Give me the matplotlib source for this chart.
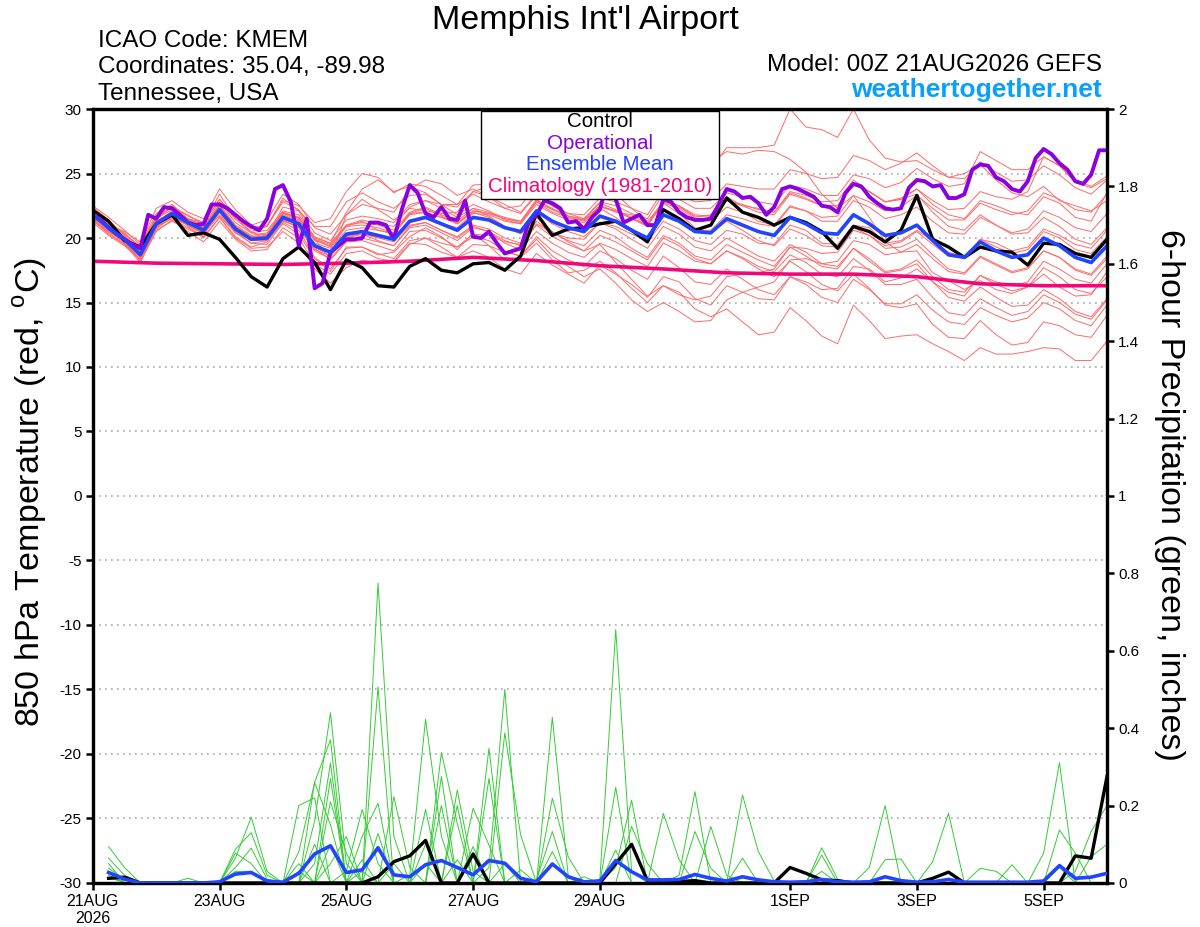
"""
GEFS 850 hPa temperature / 6-hour precipitation plume for KMEM.
"""

import pandas as pd
import matplotlib
matplotlib.use("Agg")
from matplotlib import pyplot as plt
from matplotlib.patches import Rectangle

plt.rcParams['font.family'] = ['Liberation Sans', 'DejaVu Sans']
plt.rcParams['mathtext.fontset'] = 'custom'
plt.rcParams['mathtext.rm'] = 'Liberation Sans'

# ---------------------------------------------------------------- texts
title = "Memphis Int'l Airport"
info_left = ["ICAO Code: KMEM", "Coordinates: 35.04, -89.98", "Tennessee, USA"]
model_run = "Model: 00Z 21AUG2026 GEFS"
website = "weathertogether.net"
legend_labels = ["Control", "Operational", "Ensemble Mean", "Climatology (1981-2010)"]

tick_dates = ["2026-08-21", "2026-08-23", "2026-08-25", "2026-08-27",
              "2026-08-29", "2026-09-01", "2026-09-03", "2026-09-05"]
tick_labels = ["21AUG\n2026", "23AUG", "25AUG", "27AUG", "29AUG", "1SEP", "3SEP", "5SEP"]

# ---------------------------------------------------------------- 850 hPa temperature (C), 6-hourly, 00Z 21AUG .. 00Z 06SEP
t850_mean = [21.8, 20.8, 19.9, 18.7, 21.1, 21.9, 21.2, 20.6, 22.2, 20.7, 19.9, 20.0, 21.6,
             21.1, 19.4, 18.9, 20.3, 20.5, 20.2, 19.9, 21.3, 21.6, 21.1, 20.6, 21.6, 21.4,
             20.8, 20.5, 22.1, 21.3, 20.8, 20.5, 21.7, 21.3, 20.6, 20.0, 21.8, 21.3, 20.5,
             20.4, 21.5, 21.0, 20.5, 20.2, 21.6, 21.1, 20.4, 20.3, 21.8, 21.1, 20.2, 20.4,
             21.0, 19.8, 18.7, 18.5, 19.7, 19.0, 18.5, 18.7, 20.0, 19.4, 18.5, 18.1, 19.4]

t850_control = [22.15, 21.3, 19.8, 19.3, 21.1, 21.8, 20.2, 20.4, 19.9, 18.5, 17.0, 16.2, 18.4,
                19.3, 18.1, 16.0, 18.3, 17.7, 16.3, 16.2, 17.8, 18.4, 17.5, 17.3, 18.0, 18.1,
                17.5, 18.6, 21.9, 20.2, 20.7, 20.8, 21.1, 21.3, 20.6, 19.7, 22.2, 21.5, 20.6,
                21.0, 23.1, 22.0, 21.6, 21.0, 21.6, 21.2, 20.5, 19.2, 20.9, 20.5, 19.7, 20.6,
                23.3, 19.9, 19.3, 18.5, 19.3, 19.0, 18.9, 17.9, 19.6, 19.5, 18.8, 18.5, 19.9]

# operational GFS, 3-hourly (one row per day)
t850_oper = [21.9, 21.4, 20.8, 20.3, 19.9, 19.5, 19.2, 21.8,
             21.5, 22.4, 22.3, 21.8, 21.2, 21.0, 21.1, 22.6,
             22.6, 22.3, 21.8, 21.3, 20.9, 20.6, 21.5, 23.8,
             24.1, 22.8, 19.4, 21.5, 16.1, 16.5, 18.9, 19.4,
             19.9, 19.9, 20.0, 21.2, 21.2, 21.0, 19.9, 22.2,
             24.1, 23.5, 21.9, 21.6, 22.4, 21.5, 21.4, 22.9,
             20.1, 20.0, 20.5, 19.6, 18.8, 19.0, 19.2, 21.2,
             21.8, 22.9, 22.7, 22.3, 21.2, 21.3, 20.7, 21.6,
             22.2, 24.5, 23.0, 21.2, 21.5, 21.8, 21.0, 21.0,
             23.0, 22.8, 22.0, 21.6, 21.4, 21.4, 21.5, 22.6,
             23.8, 23.6, 23.1, 23.2, 22.7, 21.8, 22.4, 23.8,
             24.0, 23.8, 23.5, 23.2, 22.5, 22.4, 22.0, 23.5,
             24.2, 24.0, 23.2, 22.7, 22.3, 22.2, 22.3, 23.9,
             24.5, 24.4, 24.0, 24.1, 23.1, 23.1, 23.4, 25.3,
             25.7, 25.6, 24.7, 24.4, 23.8, 23.6, 24.4, 26.2,
             26.9, 26.5, 25.8, 25.3, 24.4, 24.2, 24.9, 26.8,
             26.8]

# climatology, daily at 00Z
t850_clim = [18.2, 18.05, 18.0, 17.95, 18.05, 18.2, 18.5, 18.25, 17.85,
             17.6, 17.3, 17.2, 17.2, 17.0, 16.45, 16.3, 16.3]

# ensemble members
t850_m01 = [22.1, 21.3, 19.7, 18.7, 21.7, 22.3, 21.4, 21.1, 23.4, 21.5, 20.5, 20.9, 23.1,
            22.1, 20.9, 20.9, 22.8, 23.5, 22.8, 22.3, 23.3, 23.4, 22.6, 22.6, 24.1, 24.2,
            23.8, 23.7, 25.0, 24.8, 23.8, 23.7, 25.1, 24.3, 23.4, 23.5, 25.8, 25.5, 25.0,
            25.4, 27.0, 27.0, 27.0, 27.2, 30.0, 28.6, 28.4, 27.8, 30.0, 27.6, 26.2, 25.9,
            26.0, 25.3, 24.7, 25.0, 25.7, 24.5, 23.5, 23.2, 24.0, 22.9, 22.5, 22.1, 22.9]
t850_m02 = [22.3, 21.0, 20.5, 19.7, 21.4, 22.5, 20.9, 20.1, 22.7, 21.5, 20.4, 20.2, 22.4,
            22.1, 19.9, 18.4, 21.8, 23.0, 22.2, 21.4, 22.3, 22.1, 21.9, 22.0, 23.6, 23.2,
            22.3, 22.5, 24.1, 24.0, 23.6, 23.5, 25.2, 24.3, 24.1, 24.5, 25.8, 25.5, 25.5,
            25.9, 26.7, 26.5, 26.8, 26.7, 26.1, 25.1, 23.4, 22.3, 23.3, 21.6, 19.7, 18.9,
            19.0, 17.3, 16.7, 16.0, 16.7, 16.0, 15.7, 16.2, 17.2, 16.2, 15.5, 15.6, 17.4]
t850_m03 = [21.3, 20.5, 19.7, 18.2, 20.8, 21.7, 21.2, 20.8, 21.7, 20.4, 19.9, 19.8, 21.1,
            20.3, 18.4, 17.4, 19.3, 19.3, 18.7, 18.9, 20.1, 20.8, 20.1, 19.1, 20.4, 19.4,
            18.3, 18.5, 19.6, 18.3, 17.3, 17.5, 18.2, 17.3, 16.1, 15.0, 16.3, 15.8, 14.5,
            13.9, 14.5, 13.5, 12.5, 12.7, 14.6, 13.6, 12.4, 11.8, 14.8, 13.6, 12.2, 12.4,
            12.5, 11.8, 11.2, 10.5, 11.5, 11.0, 11.0, 11.2, 11.5, 11.4, 10.5, 10.5, 12.0]
t850_m04 = [21.6, 20.6, 20.1, 19.0, 21.3, 22.0, 21.5, 20.9, 22.5, 20.9, 19.8, 20.3, 21.9,
            21.4, 19.9, 19.3, 20.9, 21.3, 20.6, 20.4, 21.9, 22.0, 21.6, 21.2, 22.1, 21.9,
            21.5, 21.2, 22.9, 22.3, 21.5, 21.4, 22.5, 22.0, 21.8, 21.1, 22.9, 22.5, 21.6,
            21.8, 23.2, 22.5, 22.3, 22.0, 23.6, 23.3, 22.8, 22.9, 24.5, 23.6, 22.8, 23.0,
            23.8, 22.6, 21.8, 21.5, 22.9, 22.5, 22.0, 21.8, 23.2, 22.7, 21.6, 21.3, 23.5]
t850_m05 = [21.9, 21.1, 19.6, 18.5, 20.7, 21.6, 21.0, 20.3, 21.8, 20.5, 19.6, 19.5, 21.2,
            20.6, 18.5, 17.6, 19.2, 19.3, 18.8, 18.4, 19.8, 20.0, 19.3, 18.5, 19.0, 18.5,
            17.6, 17.2, 18.8, 17.9, 17.2, 16.5, 17.9, 17.2, 16.4, 15.4, 17.0, 16.6, 15.3,
            14.8, 16.3, 15.8, 15.3, 15.2, 17.0, 16.6, 16.0, 16.1, 17.8, 17.6, 16.6, 16.9,
            17.6, 16.6, 15.8, 15.5, 17.1, 16.6, 16.3, 16.6, 18.2, 17.6, 16.8, 16.5, 18.0]
t850_m06 = [22.0, 21.0, 20.3, 19.4, 21.9, 22.6, 21.5, 21.2, 23.0, 21.6, 20.8, 21.0, 22.9,
            22.5, 21.2, 21.5, 23.6, 25.0, 24.7, 23.5, 24.2, 24.0, 23.3, 22.6, 23.4, 22.8,
            22.3, 21.9, 23.3, 22.5, 21.7, 21.4, 22.3, 21.6, 20.6, 19.7, 21.3, 20.7, 19.8,
            19.5, 20.6, 20.3, 19.6, 19.5, 21.0, 20.6, 19.6, 19.5, 21.0, 20.8, 19.6, 19.8,
            20.6, 19.8, 18.9, 18.5, 19.9, 19.6, 19.0, 19.3, 20.7, 20.2, 19.5, 19.2, 20.6]
t850_m07 = [21.5, 20.4, 19.5, 18.1, 20.5, 21.4, 20.5, 19.7, 21.3, 19.9, 19.0, 19.1, 20.8,
            20.0, 18.0, 17.2, 18.8, 19.0, 18.4, 18.2, 19.6, 19.5, 18.9, 18.5, 19.5, 19.4,
            18.9, 18.6, 20.1, 19.0, 18.3, 17.8, 19.0, 18.4, 17.5, 16.8, 18.6, 17.7, 16.6,
            16.4, 17.6, 16.8, 16.0, 15.6, 17.0, 16.4, 15.4, 15.0, 16.8, 16.0, 14.9, 14.9,
            15.6, 14.4, 13.5, 13.3, 14.6, 14.0, 13.5, 13.8, 15.0, 14.5, 13.6, 13.2, 14.8]
t850_m08 = [22.4, 21.4, 20.2, 18.9, 21.6, 22.4, 21.8, 21.0, 22.8, 21.2, 20.4, 20.6, 22.1,
            21.8, 20.1, 19.6, 21.0, 21.2, 21.0, 20.6, 22.0, 22.4, 21.8, 21.3, 22.3, 22.0,
            21.6, 21.3, 23.0, 22.2, 21.7, 21.5, 22.8, 22.5, 21.9, 21.5, 23.4, 23.0, 22.3,
            22.3, 23.5, 23.2, 22.8, 22.6, 24.1, 23.8, 23.3, 23.3, 24.9, 24.6, 23.9, 24.3,
            25.4, 24.6, 24.0, 24.2, 26.7, 26.0, 25.3, 25.3, 26.3, 25.6, 24.5, 24.0, 24.8]
t850_m09 = [21.2, 20.2, 19.4, 18.4, 20.9, 21.5, 20.8, 20.0, 21.6, 20.1, 19.3, 19.7, 21.3,
            20.9, 19.2, 18.3, 19.7, 19.8, 19.4, 19.0, 20.5, 20.6, 20.0, 19.3, 20.1, 19.8,
            19.0, 18.6, 19.9, 18.6, 17.8, 17.0, 17.6, 16.5, 15.2, 14.3, 15.0, 14.3, 13.5,
            13.6, 15.2, 15.8, 16.2, 16.6, 18.3, 18.4, 18.0, 18.2, 19.8, 19.5, 18.7, 18.9,
            19.5, 18.4, 17.4, 17.2, 18.5, 17.9, 17.3, 17.6, 19.0, 18.5, 17.6, 17.2, 18.6]
t850_m10 = [22.5, 21.6, 20.6, 19.5, 22.3, 22.9, 22.0, 21.5, 23.8, 22.2, 21.0, 21.4, 23.4,
            22.6, 20.8, 20.3, 21.8, 22.6, 22.3, 22.0, 23.8, 24.5, 24.2, 23.3, 23.8, 23.2,
            22.6, 22.0, 23.4, 22.5, 21.9, 21.5, 22.7, 22.2, 21.6, 21.0, 22.7, 22.3, 21.5,
            21.3, 22.4, 22.0, 21.3, 21.0, 22.5, 22.1, 21.3, 21.3, 22.9, 22.4, 21.5, 21.8,
            22.4, 21.3, 20.4, 20.3, 21.6, 21.0, 20.4, 20.7, 22.1, 21.6, 20.8, 20.5, 21.9]
t850_m11 = [21.7, 20.9, 20.0, 18.9, 21.2, 21.8, 21.3, 20.6, 22.0, 20.6, 20.0, 20.2, 21.5,
            21.0, 19.3, 18.6, 20.1, 20.3, 19.8, 19.4, 20.8, 21.0, 20.4, 19.8, 20.8, 20.5,
            19.8, 19.4, 21.0, 20.1, 19.5, 19.0, 20.2, 19.7, 19.0, 18.3, 20.0, 19.4, 18.4,
            18.0, 19.0, 18.4, 17.6, 17.0, 18.2, 17.4, 16.4, 15.9, 17.2, 16.1, 14.8, 14.6,
            14.9, 13.3, 12.3, 12.2, 13.6, 12.5, 11.7, 11.9, 13.5, 13.2, 12.5, 12.3, 14.0]
t850_m12 = [21.9, 20.9, 20.0, 18.6, 21.0, 21.8, 21.0, 20.5, 22.4, 20.9, 20.1, 20.1, 21.7,
            21.2, 19.6, 19.2, 20.6, 20.8, 20.6, 20.3, 21.8, 22.0, 21.6, 21.1, 22.1, 21.9,
            21.5, 21.3, 22.8, 22.0, 21.6, 21.3, 22.5, 22.1, 21.5, 20.9, 22.8, 22.4, 21.7,
            21.7, 22.9, 22.6, 22.2, 22.0, 23.5, 23.1, 22.5, 22.5, 24.1, 23.6, 22.8, 23.1,
            23.8, 22.9, 22.2, 22.3, 23.6, 23.2, 23.0, 23.6, 26.3, 25.6, 24.3, 23.9, 24.6]
t850_m13 = [21.6, 20.7, 19.8, 18.6, 20.9, 21.7, 21.0, 20.3, 22.0, 20.4, 19.6, 19.8, 21.4,
            20.8, 19.0, 18.4, 19.8, 20.0, 19.7, 19.4, 20.9, 21.2, 20.6, 20.1, 21.0, 20.7,
            20.0, 19.6, 21.3, 20.4, 19.8, 19.4, 20.6, 20.1, 19.2, 18.5, 20.2, 19.6, 18.6,
            18.3, 19.5, 18.9, 18.3, 17.8, 19.3, 18.6, 17.8, 17.6, 19.2, 18.2, 17.3, 17.5,
            18.0, 16.6, 15.4, 15.1, 16.2, 15.4, 14.7, 14.8, 16.0, 15.3, 14.3, 13.9, 15.3]
t850_m14 = [22.0, 21.1, 20.3, 19.1, 21.5, 22.2, 21.5, 20.9, 22.6, 21.0, 20.2, 20.4, 22.0,
            21.6, 19.9, 19.5, 21.0, 21.4, 21.1, 20.9, 22.4, 22.9, 22.6, 22.4, 23.6, 24.0,
            23.8, 23.6, 25.0, 24.4, 23.9, 23.4, 24.2, 23.4, 22.3, 21.3, 22.7, 21.9, 20.8,
            20.4, 21.3, 20.6, 19.8, 19.4, 20.7, 20.2, 19.4, 19.3, 20.8, 20.2, 19.2, 19.3,
            19.9, 18.7, 17.6, 17.3, 18.6, 18.0, 17.4, 17.7, 19.0, 18.5, 17.5, 17.1, 18.4]
t850_m15 = [21.4, 20.3, 19.5, 18.3, 20.6, 21.3, 20.7, 20.1, 21.6, 20.0, 19.2, 19.3, 20.5,
            19.6, 17.6, 16.5, 17.7, 18.3, 18.0, 18.1, 19.5, 20.0, 19.6, 19.3, 20.3, 20.2,
            19.7, 19.5, 21.1, 20.4, 20.0, 19.9, 21.2, 20.9, 20.3, 19.8, 21.7, 21.3, 20.6,
            20.6, 21.8, 21.5, 21.1, 20.9, 22.4, 22.1, 21.6, 21.7, 23.3, 22.8, 22.1, 22.4,
            23.3, 22.3, 21.4, 21.4, 22.7, 22.2, 21.8, 22.1, 23.5, 23.0, 22.2, 22.0, 23.4]
t850_m16 = [21.8, 20.6, 19.6, 18.3, 20.8, 21.6, 21.0, 20.4, 22.0, 20.6, 19.8, 19.9, 21.4,
            20.8, 19.1, 18.6, 20.0, 20.3, 20.1, 19.9, 21.2, 21.5, 21.1, 20.8, 21.9, 21.8,
            21.3, 21.1, 22.8, 22.2, 21.9, 21.8, 23.1, 22.8, 22.3, 21.8, 23.7, 23.4, 22.8,
            22.9, 24.2, 24.0, 23.8, 23.8, 25.3, 25.0, 24.6, 24.7, 26.4, 26.0, 25.3, 25.8,
            26.6, 25.6, 24.7, 24.6, 25.9, 25.1, 24.4, 24.5, 25.6, 24.9, 23.9, 23.4, 24.5]
t850_m17 = [22.2, 21.2, 20.1, 18.8, 21.3, 22.0, 21.3, 20.7, 22.4, 20.8, 19.9, 20.1, 21.8,
            21.3, 19.5, 18.8, 20.2, 20.3, 20.0, 19.7, 21.0, 21.2, 20.6, 20.0, 20.9, 20.5,
            19.6, 19.1, 20.5, 19.6, 18.9, 18.5, 19.6, 19.1, 18.4, 17.8, 19.6, 19.0, 18.2,
            18.0, 19.0, 18.5, 17.8, 17.4, 18.7, 18.1, 17.2, 17.0, 18.4, 17.5, 16.4, 16.4,
            16.8, 15.4, 14.2, 14.0, 15.3, 14.6, 14.0, 14.3, 15.6, 15.0, 14.1, 13.7, 15.2]
t850_m18 = [22.3, 21.2, 20.4, 19.2, 21.7, 22.5, 21.7, 21.2, 23.0, 21.5, 20.7, 20.9, 22.8,
            22.2, 20.4, 19.8, 21.4, 21.7, 21.5, 21.2, 22.6, 22.9, 22.3, 21.6, 22.3, 21.7,
            20.9, 20.3, 21.6, 20.5, 19.7, 19.0, 19.5, 18.1, 16.8, 15.5, 16.3, 15.6, 15.2,
            15.5, 17.0, 17.2, 17.3, 17.6, 19.3, 19.2, 18.8, 18.9, 20.6, 20.2, 19.4, 19.7,
            20.5, 19.5, 18.6, 18.5, 19.9, 19.3, 18.8, 19.1, 20.5, 20.0, 19.1, 18.8, 20.1]
t850_m19 = [21.5, 20.5, 19.8, 18.9, 21.2, 22.1, 21.4, 20.8, 22.5, 20.9, 20.1, 20.3, 22.0,
            21.5, 19.8, 19.4, 20.9, 21.0, 20.8, 20.4, 21.9, 22.3, 21.7, 21.1, 22.0, 21.6,
            20.9, 20.5, 22.0, 21.1, 20.5, 20.1, 21.2, 20.7, 19.9, 19.2, 20.9, 20.3, 19.3,
            19.0, 20.0, 19.3, 18.6, 18.2, 19.5, 18.9, 18.0, 17.8, 19.2, 18.4, 17.4, 17.6,
            18.3, 17.0, 16.0, 15.8, 17.1, 16.4, 15.9, 16.2, 17.7, 17.0, 16.0, 15.7, 17.0]
t850_m20 = [21.9, 20.9, 19.9, 18.5, 21.0, 22.0, 21.2, 20.4, 22.3, 20.7, 19.8, 20.0, 21.9,
            21.6, 20.0, 19.6, 22.0, 23.8, 24.5, 23.6, 24.0, 23.5, 22.6, 21.8, 22.6, 22.1,
            21.4, 21.1, 22.6, 21.9, 21.4, 21.2, 22.4, 22.1, 21.5, 21.0, 22.9, 22.5, 21.8,
            21.7, 22.9, 22.5, 22.0, 21.8, 23.4, 23.0, 22.5, 22.5, 24.2, 23.6, 22.8, 23.0,
            23.4, 22.0, 20.9, 20.6, 21.8, 21.0, 20.3, 20.4, 21.6, 20.9, 19.9, 19.5, 20.8]

# ---------------------------------------------------------------- 6-hour precipitation (in), 06Z 21AUG .. 00Z 06SEP
pcp_mean = [0.027, 0.01, 0, 0, 0, 0, 0, 0.003, 0.023, 0.027, 0.005, 0.002, 0.025, 0.075, 0.096, 0.027,
            0.034, 0.091, 0.021, 0.016, 0.047, 0.058, 0.04, 0.021, 0.058, 0.051, 0.012, 0.003, 0.049, 0.016, 0.003, 0.005,
            0.058, 0.029, 0.008, 0.008, 0.009, 0.022, 0.012, 0.005, 0.016, 0.008, 0.003, 0.002, 0.003, 0.009, 0.003, 0.002,
            0.003, 0.016, 0.006, 0.002, 0.003, 0.009, 0.002, 0.002, 0.002, 0.002, 0.002, 0.005, 0.045, 0.012, 0.015, 0.025]

pcp_control = [0.012, 0.015, 0, 0, 0, 0, 0, 0, 0, 0, 0, 0, 0, 0, 0, 0,
               0, 0.016, 0.055, 0.07, 0.11, 0, 0, 0.075, 0, 0, 0, 0, 0, 0, 0, 0,
               0.05, 0.10, 0.006, 0, 0.004, 0.006, 0, 0, 0, 0, 0, 0.04, 0.025, 0.008, 0.006, 0,
               0, 0, 0, 0, 0.012, 0.028, 0, 0, 0, 0, 0, 0, 0, 0.07, 0.064, 0.275]

pcp_m01 = [0.094, 0.04, 0, 0, 0, 0, 0, 0, 0, 0, 0, 0, 0, 0.16, 0.44, 0.05,
           0, 0, 0, 0, 0, 0, 0.06, 0, 0, 0, 0, 0.008, 0.133, 0, 0, 0,
           0, 0, 0, 0, 0, 0, 0, 0, 0, 0, 0, 0, 0, 0, 0, 0,
           0, 0, 0, 0, 0, 0, 0, 0, 0, 0, 0, 0, 0.04, 0, 0, 0]
pcp_m02 = [0.064, 0.02, 0, 0, 0, 0, 0, 0, 0, 0, 0, 0, 0, 0, 0.05, 0.12,
           0, 0.128, 0, 0, 0, 0, 0, 0, 0.27, 0, 0, 0, 0, 0, 0.016, 0,
           0, 0, 0, 0, 0, 0, 0, 0, 0, 0, 0, 0, 0, 0.03, 0, 0,
           0, 0, 0, 0, 0, 0, 0, 0, 0, 0, 0, 0, 0, 0, 0, 0]
pcp_m03 = [0.05, 0, 0, 0, 0, 0, 0, 0, 0.087, 0.13, 0.02, 0, 0, 0, 0, 0,
           0, 0, 0, 0.02, 0.423, 0.12, 0, 0, 0, 0, 0, 0, 0, 0, 0, 0,
           0.04, 0.214, 0, 0, 0, 0, 0, 0, 0, 0, 0, 0, 0, 0, 0, 0,
           0, 0, 0, 0, 0, 0, 0, 0, 0, 0, 0, 0, 0, 0, 0, 0]
pcp_m04 = [0.038, 0.01, 0, 0, 0, 0, 0, 0, 0, 0, 0, 0, 0, 0.26, 0.37, 0,
           0, 0, 0, 0, 0, 0, 0, 0, 0, 0.388, 0.124, 0, 0, 0, 0, 0,
           0, 0, 0, 0, 0, 0, 0, 0, 0, 0, 0, 0, 0, 0, 0, 0,
           0, 0.06, 0.062, 0, 0, 0, 0, 0, 0, 0, 0, 0, 0, 0, 0, 0]
pcp_m05 = [0.03, 0, 0, 0, 0, 0, 0, 0, 0.077, 0.05, 0, 0, 0, 0, 0, 0,
           0.06, 0, 0, 0, 0, 0.275, 0, 0, 0, 0, 0, 0, 0.081, 0, 0, 0,
           0, 0, 0, 0, 0, 0, 0.146, 0.02, 0, 0, 0, 0, 0, 0, 0, 0,
           0, 0, 0, 0, 0, 0, 0, 0, 0, 0, 0, 0, 0, 0, 0, 0]
pcp_m06 = [0.02, 0, 0, 0, 0, 0, 0, 0, 0, 0, 0, 0, 0.2, 0.22, 0, 0,
           0, 0, 0, 0, 0.1, 0, 0, 0, 0.348, 0, 0, 0, 0, 0, 0, 0,
           0, 0, 0, 0, 0, 0, 0, 0, 0.064, 0, 0, 0, 0, 0, 0, 0,
           0, 0, 0, 0, 0.055, 0.18, 0, 0, 0, 0, 0, 0, 0, 0, 0, 0]
pcp_m07 = [0.015, 0, 0, 0, 0, 0, 0, 0, 0, 0, 0, 0, 0, 0, 0.21, 0.077,
           0, 0, 0, 0, 0, 0, 0.2, 0, 0, 0, 0, 0, 0, 0, 0, 0,
           0, 0, 0, 0.18, 0.06, 0, 0, 0, 0, 0, 0, 0, 0, 0, 0, 0,
           0, 0, 0, 0, 0, 0, 0, 0, 0, 0, 0, 0, 0, 0, 0, 0]
pcp_m08 = [0, 0, 0, 0, 0, 0, 0, 0, 0.064, 0.17, 0.03, 0, 0, 0, 0, 0,
           0, 0, 0.223, 0.04, 0, 0, 0, 0, 0, 0.05, 0, 0, 0, 0, 0, 0,
           0, 0, 0, 0, 0, 0, 0, 0, 0, 0, 0, 0, 0, 0.072, 0, 0,
           0, 0, 0, 0, 0, 0, 0, 0, 0, 0, 0, 0, 0, 0, 0, 0]
pcp_m09 = [0, 0, 0, 0, 0, 0.012, 0, 0, 0, 0, 0, 0, 0, 0, 0, 0.03,
           0.19, 0.05, 0, 0, 0, 0, 0, 0.094, 0, 0, 0, 0, 0, 0, 0, 0,
           0, 0, 0, 0, 0, 0.133, 0.038, 0, 0, 0, 0, 0, 0, 0, 0, 0,
           0, 0, 0, 0, 0, 0, 0, 0, 0, 0, 0, 0, 0, 0, 0, 0]
pcp_m10 = [0, 0, 0, 0, 0, 0, 0, 0, 0.04, 0.09, 0.01, 0, 0, 0, 0, 0,
           0, 0.775, 0.12, 0, 0, 0, 0, 0, 0, 0, 0, 0, 0, 0, 0, 0,
           0, 0.146, 0.05, 0, 0, 0, 0, 0, 0, 0, 0, 0, 0, 0, 0, 0,
           0, 0, 0, 0, 0, 0, 0, 0, 0, 0, 0, 0.077, 0.311, 0, 0, 0]
pcp_m11 = [0, 0, 0, 0, 0, 0, 0, 0, 0, 0, 0, 0, 0.08, 0.26, 0.15, 0,
           0, 0, 0, 0, 0, 0.2, 0, 0, 0, 0, 0, 0, 0.428, 0.02, 0, 0,
           0, 0, 0, 0, 0, 0, 0, 0, 0, 0, 0, 0, 0, 0, 0, 0,
           0, 0, 0, 0, 0, 0, 0, 0, 0, 0, 0, 0, 0, 0.03, 0.133, 0.2]
pcp_m12 = [0, 0, 0, 0, 0, 0, 0, 0, 0.03, 0.03, 0, 0, 0, 0, 0, 0,
           0, 0.507, 0, 0, 0, 0, 0, 0, 0, 0, 0.034, 0, 0.219, 0.068, 0, 0,
           0, 0, 0, 0, 0, 0, 0, 0, 0, 0, 0, 0, 0, 0, 0, 0,
           0, 0, 0, 0, 0, 0, 0, 0.038, 0.03, 0, 0, 0, 0, 0, 0, 0]
pcp_m13 = [0, 0, 0, 0, 0, 0, 0, 0, 0, 0, 0, 0, 0.05, 0, 0.27, 0,
           0, 0, 0, 0, 0, 0, 0.24, 0.03, 0, 0, 0, 0, 0, 0, 0, 0,
           0, 0, 0, 0, 0, 0, 0, 0, 0.227, 0.081, 0.005, 0, 0, 0, 0, 0,
           0, 0, 0, 0, 0, 0, 0, 0, 0, 0, 0, 0, 0, 0, 0, 0]
pcp_m14 = [0, 0, 0, 0, 0, 0, 0, 0, 0, 0, 0, 0, 0.03, 0, 0, 0,
           0.12, 0.206, 0, 0, 0, 0, 0, 0, 0, 0, 0, 0, 0, 0, 0, 0.01,
           0.655, 0.03, 0, 0, 0, 0, 0, 0, 0, 0, 0, 0, 0, 0, 0, 0,
           0, 0, 0, 0, 0, 0, 0, 0, 0, 0.047, 0, 0, 0, 0, 0, 0]
pcp_m15 = [0, 0, 0, 0, 0, 0, 0, 0, 0, 0, 0, 0, 0, 0.1, 0, 0,
           0, 0, 0.05, 0, 0.19, 0, 0, 0, 0, 0, 0, 0, 0, 0, 0, 0,
           0.085, 0, 0, 0, 0, 0, 0, 0, 0, 0, 0, 0, 0, 0.091, 0.01, 0,
           0, 0, 0, 0, 0, 0, 0, 0, 0, 0, 0, 0, 0, 0, 0, 0]
pcp_m16 = [0, 0, 0, 0, 0, 0, 0, 0, 0, 0, 0, 0, 0, 0.05, 0.31, 0,
           0, 0, 0, 0, 0, 0, 0, 0.193, 0.098, 0, 0, 0, 0, 0, 0, 0,
           0, 0, 0, 0, 0.02, 0.236, 0, 0, 0, 0, 0, 0, 0, 0, 0, 0,
           0, 0, 0, 0, 0, 0, 0, 0, 0, 0, 0, 0, 0, 0, 0.068, 0.1]
pcp_m17 = [0, 0, 0, 0, 0, 0, 0, 0, 0, 0, 0, 0, 0, 0, 0.1, 0,
           0, 0, 0, 0, 0.05, 0, 0, 0, 0.04, 0.5, 0, 0, 0, 0, 0, 0,
           0, 0, 0, 0, 0, 0, 0, 0, 0, 0, 0, 0, 0, 0, 0, 0,
           0.04, 0.2, 0, 0, 0, 0, 0, 0, 0, 0, 0, 0, 0, 0, 0, 0]
pcp_m18 = [0, 0, 0, 0, 0, 0, 0, 0, 0, 0, 0, 0, 0, 0, 0, 0,
           0.03, 0, 0, 0, 0, 0.337, 0.154, 0, 0, 0, 0, 0, 0, 0, 0, 0,
           0.247, 0, 0, 0, 0, 0, 0, 0, 0, 0, 0, 0, 0, 0, 0, 0,
           0, 0, 0, 0, 0, 0, 0, 0, 0, 0, 0, 0, 0.137, 0.077, 0, 0]

t850_members = [t850_m01, t850_m02, t850_m03, t850_m04, t850_m05, t850_m06, t850_m07,
                t850_m08, t850_m09, t850_m10, t850_m11, t850_m12, t850_m13, t850_m14,
                t850_m15, t850_m16, t850_m17, t850_m18, t850_m19, t850_m20]
pcp_members = [pcp_m01, pcp_m02, pcp_m03, pcp_m04, pcp_m05, pcp_m06, pcp_m07, pcp_m08,
               pcp_m09, pcp_m10, pcp_m11, pcp_m12, pcp_m13, pcp_m14, pcp_m15, pcp_m16,
               pcp_m17, pcp_m18]

# ---------------------------------------------------------------- time axes
times6 = pd.date_range("2026-08-21 00:00", periods=65, freq="6h").to_pydatetime()
times3 = pd.date_range("2026-08-21 00:00", periods=129, freq="3h").to_pydatetime()
days = pd.date_range("2026-08-21 00:00", periods=17, freq="24h").to_pydatetime()
pcp_times = times6[1:]


def check(name, values, n):
    if len(values) != n:
        raise ValueError(f"{name}: {len(values)} values, expected {n}")


check("t850_mean", t850_mean, 65)
check("t850_control", t850_control, 65)
check("t850_oper", t850_oper, 129)
check("t850_clim", t850_clim, 17)
check("pcp_mean", pcp_mean, 64)
check("pcp_control", pcp_control, 64)
for k, m in enumerate(t850_members):
    check(f"t850 member {k + 1}", m, 65)
for k, m in enumerate(pcp_members):
    check(f"pcp member {k + 1}", m, 64)

# colours
c_red = '#ff6a6a'
c_green = '#33cc33'
c_oper = '#8a00e0'
c_mean = '#2244ff'
c_clim = '#f0087a'
c_site = '#08a0f8'

# ---------------------------------------------------------------- figure
fig = plt.figure(figsize=(12, 9.27), dpi=100)
ax = fig.add_axes([0.0773, 0.0475, 0.8452, 0.8349])
ax2 = ax.twinx()

for m in t850_members:
    ax.plot(times6, m, color=c_red, lw=0.7, zorder=2)
ax.plot(days, t850_clim, color=c_clim, lw=2.6, zorder=4)
ax.plot(times6, t850_control, color='black', lw=2.4, zorder=5)
ax.plot(times3, t850_oper, color=c_oper, lw=2.8, zorder=6)
ax.plot(times6, t850_mean, color=c_mean, lw=2.6, zorder=7)

for m in pcp_members:
    ax2.plot(pcp_times, m, color=c_green, lw=0.7, zorder=2)
ax2.plot(pcp_times, pcp_control, color='black', lw=2.4, zorder=5)
ax2.plot(pcp_times, pcp_mean, color=c_mean, lw=2.6, zorder=7)

# axes, ticks
ax.set_xlim(times6[0], times6[-1])
ax.set_ylim(-30, 30)
ax.set_yticks(range(-30, 31, 5))
ax.set_yticklabels([str(v) for v in range(-30, 31, 5)])
ax.set_xticks(pd.to_datetime(tick_dates).to_pydatetime())
ax.set_xticklabels(tick_labels)
ax.grid(axis='y', color='#aaaaaa', lw=1.2, linestyle=(0, (1, 2.6)), zorder=0)

ax2.set_ylim(0, 2)
ax2.set_yticks([i / 10 for i in range(0, 21, 2)])
ax2.set_yticklabels(['%g' % (i / 10) for i in range(0, 21, 2)])

for a in (ax, ax2):
    for sp in a.spines.values():
        sp.set_linewidth(2.3)
ax.tick_params(axis='both', labelsize=11, width=1.8, length=5, pad=3)
ax.tick_params(axis='x', labelsize=11.5, pad=3)
ax2.tick_params(axis='y', labelsize=11, width=1.8, length=5, pad=3)

# axis titles
fig.text(0.025, 0.4687, r"850 hPa Temperature (red, $^{\rm o}$C)", rotation=90,
         ha='center', va='center', fontsize=24.5)
fig.text(0.975, 0.466, "6-hour Precipitation (green, inches)", rotation=-90,
         ha='center', va='center', fontsize=24.5)

# header
fig.text(0.488, 0.9687, title, ha='center', va='baseline', fontsize=24.5)
for txt, y in zip(info_left, [0.9496, 0.9209, 0.8921]):
    fig.text(0.0817, y, txt, ha='left', va='baseline', fontsize=17.5)
fig.text(0.9183, 0.9237, model_run, ha='right', va='baseline', fontsize=17.5)
fig.text(0.9183, 0.8957, website, ha='right', va='baseline', fontsize=19,
         fontweight='bold', color=c_site)

# legend box
box = Rectangle((0.4008, 0.7853), 0.1983, 0.0949, transform=fig.transFigure,
                facecolor='white', edgecolor='black', lw=1.0, zorder=10)
fig.add_artist(box)
for txt, col, y in zip(legend_labels, ['black', c_oper, c_mean, c_clim],
                       [0.8625, 0.8398, 0.8166, 0.7934]):
    fig.text(0.5, y, txt, color=col, ha='center', va='baseline', fontsize=14.8, zorder=11)

fig.savefig("out.png", dpi=100)
